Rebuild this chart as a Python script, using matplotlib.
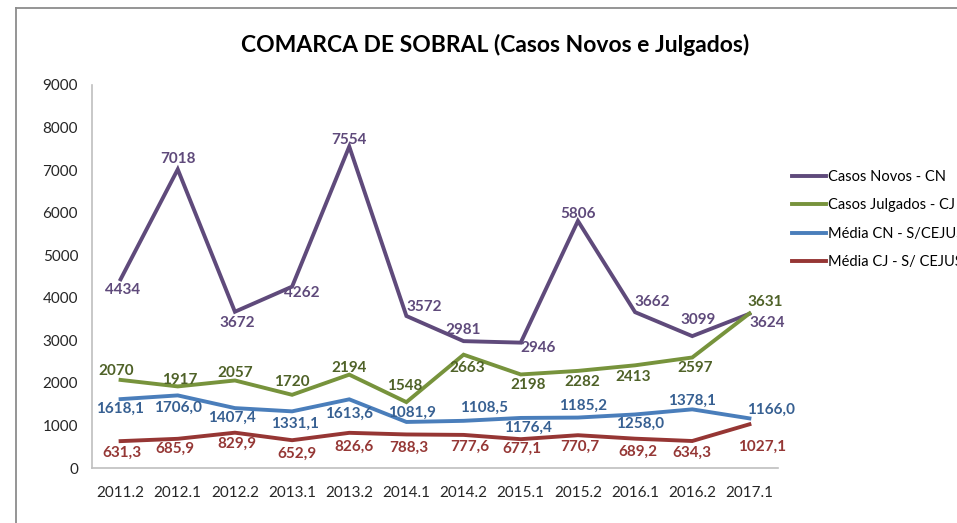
import numpy as np
import matplotlib
matplotlib.use("Agg")
import matplotlib.pyplot as plt
from matplotlib.lines import Line2D

plt.rcParams['font.family'] = ['Lato', 'DejaVu Sans']

# semesters on the x axis
periods = ['2011.2', '2012.1', '2012.2', '2013.1', '2013.2', '2014.1',
           '2014.2', '2015.1', '2015.2', '2016.1', '2016.2', '2017.1']

casos_novos = [4434, 7018, 3672, 4262, 7554, 3572, 2981, 2946, 5806, 3662, 3099, 3624]
casos_julgados = [2070, 1917, 2057, 1720, 2194, 1548, 2663, 2198, 2282, 2413, 2597, 3631]
media_cn = [1618.1, 1706.0, 1407.4, 1331.1, 1613.6, 1081.9, 1108.5, 1176.4, 1185.2, 1258.0, 1378.1, 1166.0]
media_cj = [631.3, 685.9, 829.9, 652.9, 826.6, 788.3, 777.6, 677.1, 770.7, 689.2, 634.3, 1027.1]

y_ticks = [0, 1000, 2000, 3000, 4000, 5000, 6000, 7000, 8000, 9000]

# label offsets in pixels (dx, dy with y up), one list per series
off_cn = [(2, -11), (0, 10), (2, -11), (10, -6), (0, 7), (18, 9),
          (0, 11), (17, -5), (0, 7), (17, 10), (6, 16), (18, -9)]
off_cj = [(-4, 9), (2, 6), (0, 7), (0, 13), (0, 7), (-2, 16),
          (4, -13), (7, -11), (4, -11), (-2, -12), (3, -11), (16, 11)]
off_mcn = [(-1, -10), (0, -12), (-3, -10), (3, -12), (0, -14), (6, 9),
           (20, 13), (7, -10), (5, 12), (5, -9), (0, 9), (22, 9)]
off_mcj = [(1, -12), (-3, -10), (2, -11), (5, -14), (5, -14), (2, -13),
           (6, -12), (1, -10), (2, -12), (3, -13), (0, -12), (13, -23)]


def fmt_int(v):
    return str(int(v))


def fmt_dec(v):
    return f'{v:.1f}'.replace('.', ',')


series = [
    ('Casos Novos - CN', casos_novos, '#5F4A7B', '#5F4A7B', off_cn, fmt_int),
    ('Casos Julgados - CJ', casos_julgados, '#77933C', '#4F6228', off_cj, fmt_int),
    ('Média CN - S/CEJUS', media_cn, '#4A7EBB', '#376092', off_mcn, fmt_dec),
    ('Média CJ - S/ CEJUS', media_cj, '#963634', '#953735', off_mcj, fmt_dec),
]

W, H = 957, 523
fig = plt.figure(figsize=(W / 100, H / 100), dpi=100)
ax = fig.add_axes([92 / W, 1 - 468 / H, 686 / W, 383 / H])

x = np.arange(len(periods))
for name, vals, col, lab_col, offs, fmt in series:
    ax.plot(x, vals, color=col, lw=2.8, label=name, solid_joinstyle='miter')
    for xi, v, (dx, dy) in zip(x, vals, offs):
        ax.annotate(fmt(v), (xi, v), xytext=(dx, dy), textcoords='offset pixels',
                    ha='center', va='center', fontsize=11, fontweight='bold',
                    color=lab_col)

ax.set_xlim(-0.5, len(periods) - 0.5)
ax.set_ylim(0, 9000)
ax.set_xticks(x)
ax.set_xticklabels(periods)
ax.set_yticks(y_ticks)
ax.tick_params(length=0, labelsize=11, colors='#262626')
ax.tick_params(axis='x', pad=13)
ax.tick_params(axis='y', pad=10)
for s in ['top', 'right']:
    ax.spines[s].set_visible(False)
for s in ['left', 'bottom']:
    ax.spines[s].set_color('#BFBFBF')
    ax.spines[s].set_linewidth(1.2)

fig.text(495 / W, 1 - 45 / H, 'COMARCA DE SOBRAL (Casos Novos e Julgados)',
         ha='center', va='center', fontsize=16.5, fontweight='bold', color='black')

# legend runs off the right edge, as in the original
fig.legend(loc='center left', bbox_to_anchor=(792 / W, 1 - 219.5 / H),
           frameon=False, fontsize=10.5, handlelength=2.3, handletextpad=0.2,
           labelspacing=0.98, borderpad=0, borderaxespad=0)

# outer chart border (only top and left visible in the crop)
fig.add_artist(Line2D([16 / W, 16 / W], [0, 1 - 8 / H], transform=fig.transFigure,
                      color='#8C8C8C', lw=1.3))
fig.add_artist(Line2D([16 / W, 1], [1 - 8 / H, 1 - 8 / H], transform=fig.transFigure,
                      color='#8C8C8C', lw=1.3))

fig.savefig('out.png', dpi=100)
